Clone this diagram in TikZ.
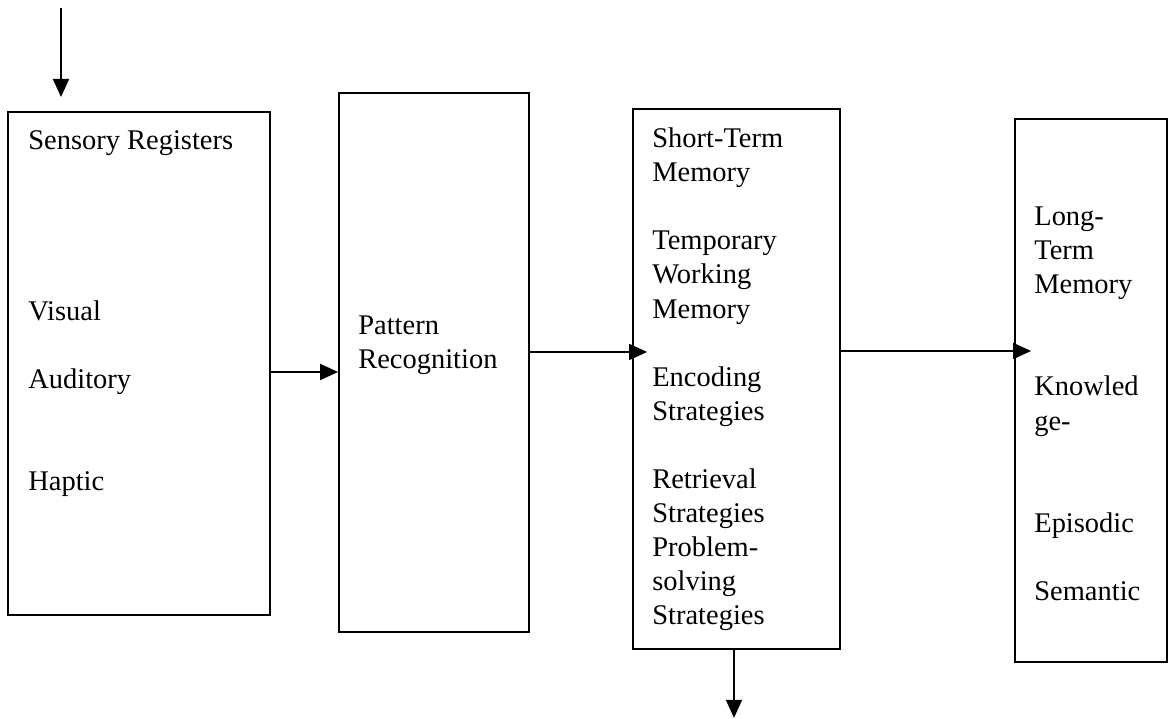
\documentclass[tikz,border=0pt]{standalone}
\usepackage{fontspec}
\setmainfont{Liberation Serif}
\usetikzlibrary{positioning,arrows.meta}

\begin{document}
\begin{tikzpicture}[
  box/.style={rectangle, draw, line width=1pt, inner sep=0pt},
  txt/.style={anchor=north west, align=left, inner sep=0pt, font=\fontsize{16.2}{19.4}\selectfont},
  arrow/.style={-{Triangle[length=3.6mm, width=3.2mm]}, line width=1pt},
]
\useasboundingbox (0,0) rectangle (23.4,14.38);

% === Boxes ===
\node[box, minimum width=5.24cm, minimum height=10.06cm] (sr) at (2.78, 7.11) {};
\node[box, minimum width=3.80cm, minimum height=10.78cm] (pr) at (8.68, 7.13) {};
\node[box, minimum width=4.14cm, minimum height=10.80cm] (stm) at (14.73, 6.80) {};
\node[box, minimum width=3.04cm, minimum height=10.86cm] (ltm) at (21.82, 6.57) {};

% === Texts ===
\node[txt] (srtext) at (0.56, 11.77)
  {Sensory Registers\\[77.6pt]Visual\\[19.4pt]Auditory\\[38.8pt]Haptic};
\node[txt] (prtext) at (7.16, 8.07) {Pattern\\Recognition};
\node[txt] (stmtext) at (13.04, 11.83)
  {Short-Term\\Memory\\[19.4pt]Temporary\\Working\\Memory\\[19.4pt]Encoding\\Strategies\\[19.4pt]Retrieval\\Strategies\\Problem-\\solving\\Strategies};
\node[txt] (ltmtext) at (20.68, 10.25)
  {Long-\\Term\\Memory\\[38.8pt]Knowled\\ge-\\[38.8pt]Episodic\\[19.4pt]Semantic};

% === Arrows ===
\coordinate (in) at (1.22, 14.22);
\draw[arrow] (in) -- ++(0,-1.78);
\draw[arrow] ([yshift=-0.17cm]sr.east) -- ([yshift=-0.19cm]pr.west);
\draw[arrow, shorten >=-0.3cm] ([yshift=0.21cm]pr.east) -- ([yshift=0.54cm]stm.west);
\draw[arrow, shorten >=-0.34cm] ([yshift=0.56cm]stm.east) -- ([yshift=0.79cm]ltm.west);
\draw[arrow] ([xshift=-0.05cm]stm.south) -- ++(0,-1.36);

\end{tikzpicture}
\end{document}
